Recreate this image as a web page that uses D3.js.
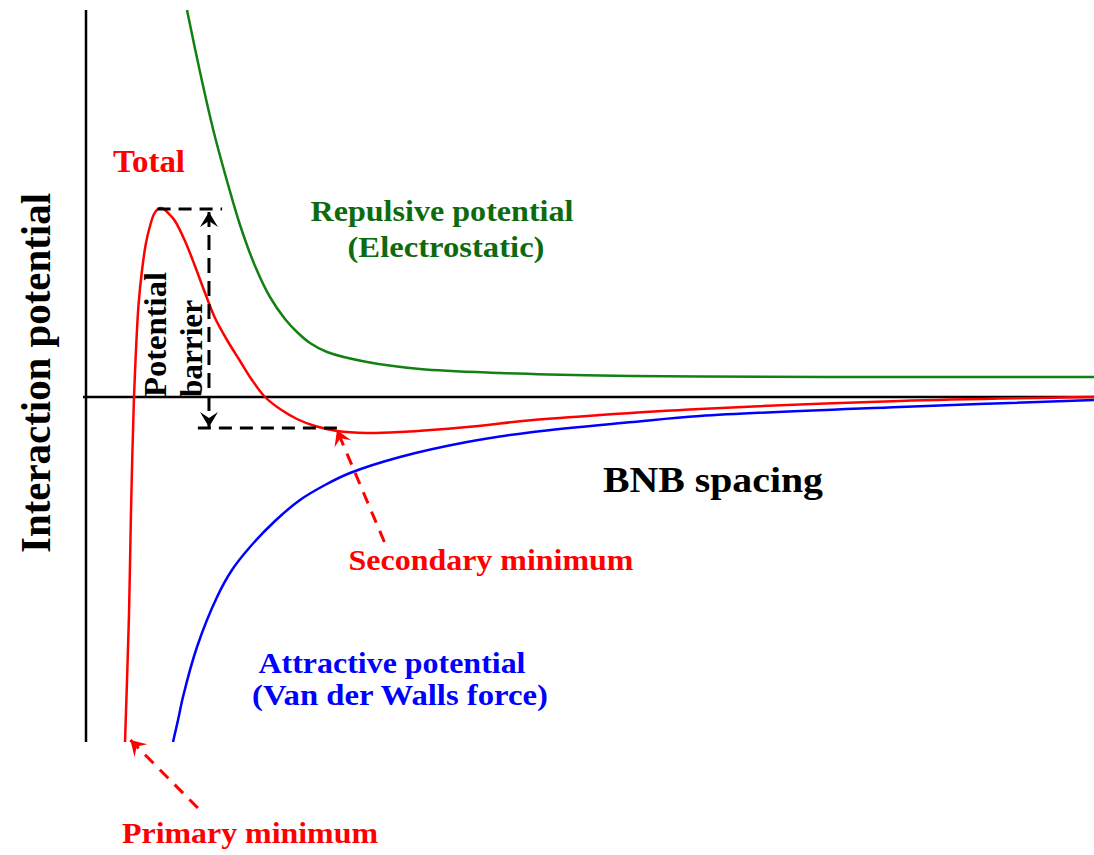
<!DOCTYPE html>
<html>
<head>
<meta charset="utf-8">
<script src="https://cdn.jsdelivr.net/npm/d3@7"></script>
<style>
  body { margin: 0; background: #fff; }
  svg text { font-family: "Liberation Serif", "Times New Roman", serif; font-weight: bold; }
</style>
</head>
<body>
<svg id="chart" width="1094" height="855"></svg>
<script>
// spacing (arbitrary units) and potential (arbitrary units)
var repulsiveX = [1.002, 1.131, 1.260, 1.399, 1.528, 1.677, 1.825, 1.974, 2.093, 2.222, 2.391, 2.788, 3.313, 4.107, 5.099, 6.091, 8.075, 10.0];
var repulsiveY = [3.87, 3.25, 2.68, 2.16, 1.72, 1.31, 1.00, 0.78, 0.65, 0.54, 0.45, 0.35, 0.28, 0.24, 0.215, 0.205, 0.20, 0.20];

var attractiveX = [0.863, 0.913, 0.962, 1.101, 1.300, 1.448, 1.627, 1.875, 2.123, 2.371, 2.619, 3.115, 3.780, 4.435, 5.427, 6.091, 8.075, 10.0];
var attractiveY = [-3.45, -3.23, -3.00, -2.50, -2.00, -1.73, -1.50, -1.24, -1.03, -0.88, -0.76, -0.60, -0.45, -0.35, -0.25, -0.19, -0.10, -0.03];

var totalX = [0.387, 0.407, 0.427, 0.446, 0.461, 0.476, 0.496, 0.521, 0.556, 0.595, 0.635, 0.675, 0.714, 0.744, 0.784, 0.833, 0.883,
  0.982, 1.081, 1.181, 1.280, 1.399, 1.528, 1.647, 1.776, 1.925, 2.093, 2.272, 2.490, 2.788, 3.115, 3.780, 4.435, 5.099, 6.091, 8.075, 10.0];
var totalY = [-3.45, -2.83, -2.16, -1.16, -0.53, 0.0, 0.47, 0.92, 1.27, 1.54, 1.71, 1.83, 1.88, 1.89, 1.87, 1.82, 1.76,
  1.56, 1.31, 1.04, 0.79, 0.57, 0.36, 0.17, 0.0, -0.12, -0.22, -0.29, -0.34, -0.36, -0.35, -0.30, -0.23, -0.18, -0.12, -0.04, 0.0];

// potential barrier: peak and secondary minimum
var barrierTop = 1.88, barrierBottom = -0.31, barrierX = 1.22;
var peakX = [0.71, 1.35];
var secMinX = [1.11, 2.49];

// arrow annotations [fromX, fromY, toX, toY]
var secondaryArrow = [2.96, -1.45, 2.49, -0.33];
var primaryArrow = [1.11, -4.11, 0.44, -3.43];

var svg = d3.select('#chart');

var x = d3.scaleLinear().domain([0, 10]).range([86, 1094]);
var y = d3.scaleLinear().domain([-3.45, 3.87]).range([742, 10]);

function toPoints(xs, ys) {
  return xs.map(function(d, i) { return [d, ys[i]]; });
}

var line = d3.line()
  .x(d => x(d[0]))
  .y(d => y(d[1]))
  .curve(d3.curveCatmullRom.alpha(0.5));

// arrowheads
var defs = svg.append('defs');
function addMarker(id, color) {
  defs.append('marker')
    .attr('id', id)
    .attr('markerUnits', 'userSpaceOnUse')
    .attr('viewBox', '-16 -10 18 20')
    .attr('refX', 0)
    .attr('refY', 0)
    .attr('markerWidth', 18)
    .attr('markerHeight', 20)
    .attr('orient', 'auto-start-reverse')
    .append('path')
    .attr('d', 'M0,0 L-15,-9 L-9,0 L-15,9 Z')
    .attr('fill', color);
}
addMarker('arrowBlack', '#000');
addMarker('arrowRed', '#ff0000');

// axes
svg.append('line')
  .attr('x1', x(0)).attr('x2', x(0))
  .attr('y1', y(3.87)).attr('y2', y(-3.45))
  .attr('stroke', '#000').attr('stroke-width', 2.5);
svg.append('line')
  .attr('x1', x(-0.03)).attr('x2', x(10))
  .attr('y1', y(0)).attr('y2', y(0))
  .attr('stroke', '#000').attr('stroke-width', 2.5);

// curves
svg.append('path')
  .datum(toPoints(repulsiveX, repulsiveY))
  .attr('d', line)
  .attr('fill', 'none')
  .attr('stroke', '#138013')
  .attr('stroke-width', 2.5);

svg.append('path')
  .datum(toPoints(attractiveX, attractiveY))
  .attr('d', line)
  .attr('fill', 'none')
  .attr('stroke', '#0000ff')
  .attr('stroke-width', 2.5);

svg.append('path')
  .datum(toPoints(totalX, totalY))
  .attr('d', line)
  .attr('fill', 'none')
  .attr('stroke', '#ff0000')
  .attr('stroke-width', 2.5);

// barrier dashed lines
svg.append('line')
  .attr('x1', x(peakX[0])).attr('x2', x(peakX[1]))
  .attr('y1', y(barrierTop)).attr('y2', y(barrierTop))
  .attr('stroke', '#000').attr('stroke-width', 3)
  .attr('stroke-dasharray', '13,8');
svg.append('line')
  .attr('x1', x(secMinX[0])).attr('x2', x(secMinX[1]))
  .attr('y1', y(barrierBottom)).attr('y2', y(barrierBottom))
  .attr('stroke', '#000').attr('stroke-width', 3)
  .attr('stroke-dasharray', '13,8');
svg.append('line')
  .attr('x1', x(barrierX)).attr('x2', x(barrierX))
  .attr('y1', y(barrierTop) + 3).attr('y2', y(barrierBottom) - 1)
  .attr('stroke', '#000').attr('stroke-width', 3)
  .attr('stroke-dasharray', '15,8')
  .attr('marker-start', 'url(#arrowBlack)')
  .attr('marker-end', 'url(#arrowBlack)');

// red pointer arrows
[secondaryArrow, primaryArrow].forEach(function(a) {
  svg.append('line')
    .attr('x1', x(a[0])).attr('y1', y(a[1]))
    .attr('x2', x(a[2])).attr('y2', y(a[3]))
    .attr('stroke', '#ff0000').attr('stroke-width', 3)
    .attr('stroke-dasharray', '12,9')
    .attr('marker-end', 'url(#arrowRed)');
});

// labels
function label(txt, px, py, size, color, width) {
  var t = svg.append('text')
    .attr('x', px).attr('y', py)
    .attr('text-anchor', 'middle')
    .attr('font-size', size)
    .attr('fill', color)
    .text(txt);
  if (width) t.attr('textLength', width).attr('lengthAdjust', 'spacingAndGlyphs');
  return t;
}

label('Total', 149, 172, 32, '#ff0000', 72);
label('Repulsive potential', 442, 221, 30, '#0d6b0d', 263);
label('(Electrostatic)', 446, 257, 30, '#0d6b0d', 197);
label('BNB spacing', 713, 492, 36, '#000', 220);
label('Secondary minimum', 491, 570, 30, '#ff0000', 285);
label('Attractive potential', 392, 673, 30, '#0000ff', 267);
label('(Van der Walls force)', 400, 705, 30, '#0000ff', 296);
label('Primary minimum', 250, 843, 30, '#ff0000', 256);

svg.append('text')
  .attr('transform', 'translate(50,373) rotate(-90)')
  .attr('text-anchor', 'middle')
  .attr('font-size', 42)
  .attr('fill', '#000')
  .attr('textLength', 360)
  .attr('lengthAdjust', 'spacingAndGlyphs')
  .text('Interaction potential');

svg.append('text')
  .attr('transform', 'translate(166,397) rotate(-90)')
  .attr('text-anchor', 'start')
  .attr('font-size', 32)
  .attr('fill', '#000')
  .attr('textLength', 125)
  .attr('lengthAdjust', 'spacingAndGlyphs')
  .text('Potential');

svg.append('text')
  .attr('transform', 'translate(202,397) rotate(-90)')
  .attr('text-anchor', 'start')
  .attr('font-size', 32)
  .attr('fill', '#000')
  .attr('textLength', 97)
  .attr('lengthAdjust', 'spacingAndGlyphs')
  .text('barrier');
</script>
</body>
</html>
